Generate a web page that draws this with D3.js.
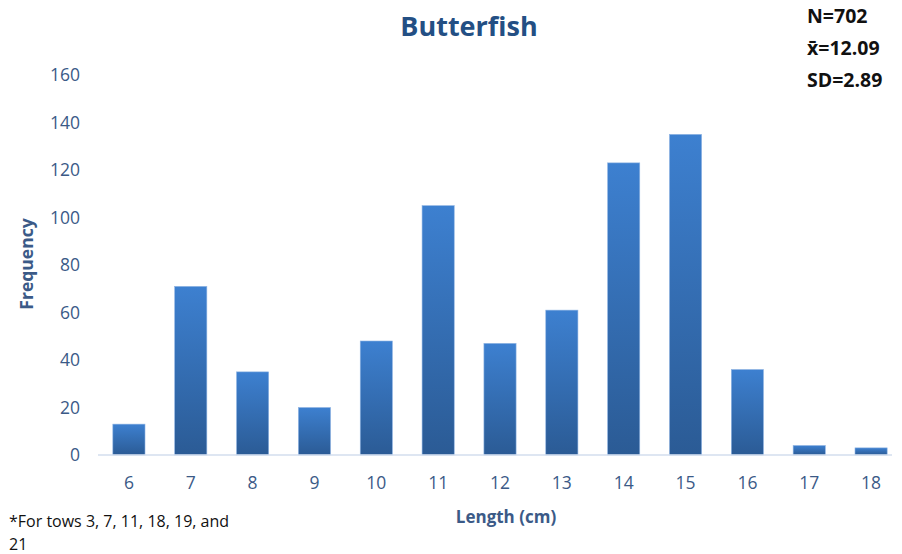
<!DOCTYPE html>
<html>
<head>
<meta charset="utf-8">
<script src="https://cdn.jsdelivr.net/npm/d3@7"></script>
<style>
  body { margin: 0; background: #fff; }
  svg { font-family: "Open Sans", "Liberation Sans", sans-serif; }
</style>
</head>
<body>
<script>
// length classes (cm) and counts
const lengths = [6, 7, 8, 9, 10, 11, 12, 13, 14, 15, 16, 17, 18];
const counts = [13, 71, 35, 20, 48, 105, 47, 61, 123, 135, 36, 4, 3];
const yTicks = [0, 20, 40, 60, 80, 100, 120, 140, 160];
const statLines = ["N=702", "x\u0304=12.09", "SD=2.89"];
const footLines = ["*For tows 3, 7, 11, 18, 19, and", "21"];

const width = 902, height = 554;
const svg = d3.select("body").append("svg")
    .attr("width", width)
    .attr("height", height);

// gradient for the bars
const defs = svg.append("defs");
const grad = defs.append("linearGradient")
    .attr("id", "barGrad")
    .attr("x1", 0).attr("y1", 0).attr("x2", 0).attr("y2", 1);
grad.append("stop").attr("offset", "0%").attr("stop-color", "#3d80d0");
grad.append("stop").attr("offset", "100%").attr("stop-color", "#2b5b95");

const xScale = d3.scaleBand()
    .domain(lengths)
    .range([98, 902])
    .paddingInner(0.48)
    .paddingOuter(0.24);
const yScale = d3.scaleLinear()
    .domain([0, 160])
    .range([455, 75]);

// bars
svg.append("g")
   .selectAll("rect")
   .data(counts)
   .enter()
   .append("rect")
   .attr("x", (d, i) => xScale(lengths[i]))
   .attr("y", d => yScale(d))
   .attr("width", xScale.bandwidth())
   .attr("height", d => yScale(0) - yScale(d))
   .attr("fill", "url(#barGrad)")
   .attr("stroke", "#8fb4e3")
   .attr("stroke-width", 0.6);

// baseline
svg.append("line")
   .attr("x1", 98).attr("x2", 892)
   .attr("y1", yScale(0)).attr("y2", yScale(0))
   .attr("stroke", "#d3deee")
   .attr("stroke-width", 1.5);

// y tick labels
svg.append("g")
   .selectAll("text")
   .data(yTicks)
   .enter()
   .append("text")
   .attr("x", 80)
   .attr("y", d => yScale(d))
   .attr("dy", "0.35em")
   .attr("text-anchor", "end")
   .attr("fill", "#3b5a87")
   .style("font-size", "17.5px")
   .text(d => d);

// x tick labels
svg.append("g")
   .selectAll("text")
   .data(lengths)
   .enter()
   .append("text")
   .attr("x", d => xScale(d) + xScale.bandwidth() / 2)
   .attr("y", 483)
   .attr("dy", "0.35em")
   .attr("text-anchor", "middle")
   .attr("fill", "#3b5a87")
   .style("font-size", "17.5px")
   .text(d => d);

// title
svg.append("text")
   .attr("x", 469)
   .attr("y", 36)
   .attr("text-anchor", "middle")
   .attr("fill", "#234f84")
   .style("font-size", "27px")
   .style("font-weight", "bold")
   .text("Butterfish");

// stats block
svg.append("g")
   .selectAll("text")
   .data(statLines)
   .enter()
   .append("text")
   .attr("x", 807)
   .attr("y", (d, i) => 23 + i * 32)
   .attr("fill", "#111")
   .style("font-size", "19.5px")
   .style("font-weight", "bold")
   .text(d => d);

// axis titles
svg.append("text")
   .attr("transform", "translate(33,264) rotate(-90)")
   .attr("text-anchor", "middle")
   .attr("fill", "#3b5a87")
   .style("font-size", "17.5px")
   .style("font-weight", "bold")
   .text("Frequency");

svg.append("text")
   .attr("x", 506)
   .attr("y", 523)
   .attr("text-anchor", "middle")
   .attr("fill", "#3b5a87")
   .style("font-size", "17px")
   .style("font-weight", "bold")
   .text("Length (cm)");

// footnote
svg.append("g")
   .selectAll("text")
   .data(footLines)
   .enter()
   .append("text")
   .attr("x", 9)
   .attr("y", (d, i) => 527 + i * 23)
   .attr("fill", "#111")
   .style("font-size", "16px")
   .text(d => d);
</script>
</body>
</html>
